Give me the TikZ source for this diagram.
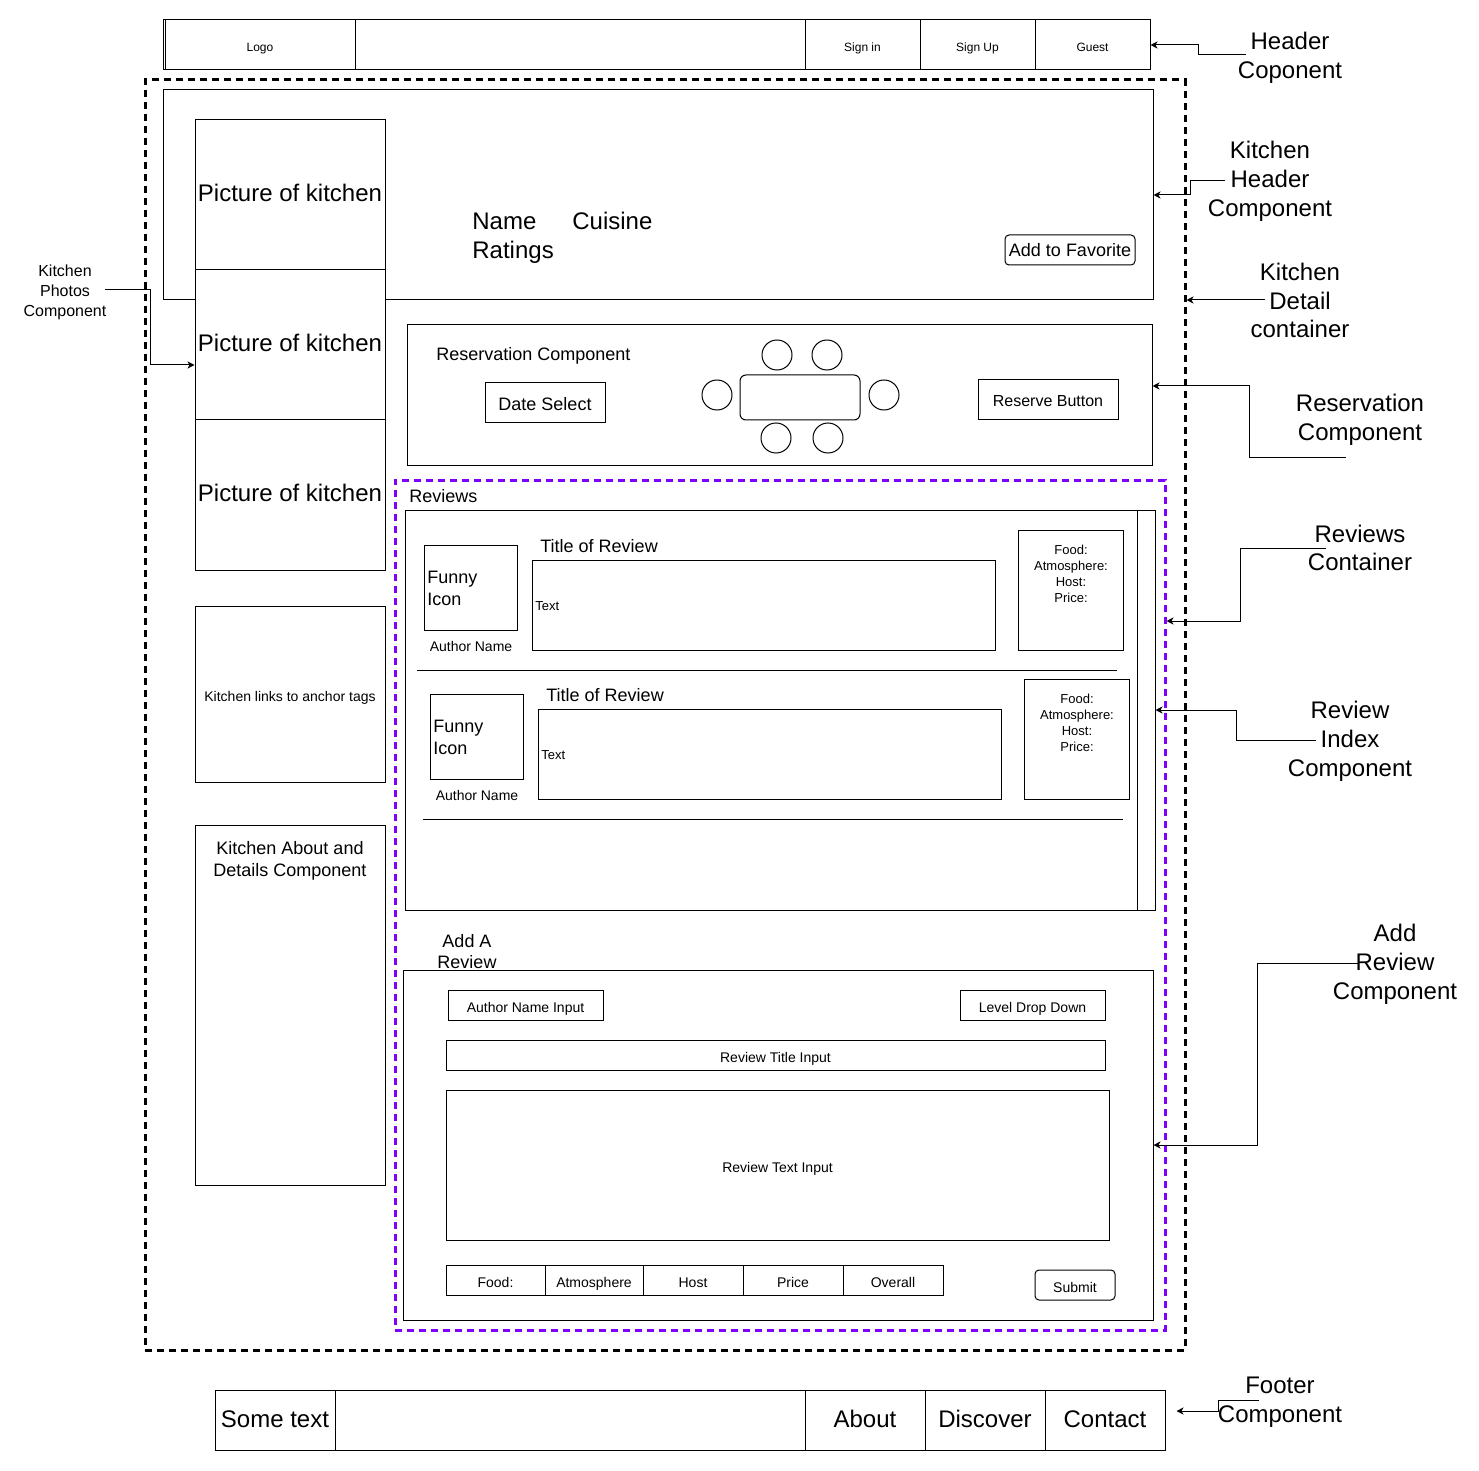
\documentclass[tikz,border=0pt]{standalone}
\usepackage{fontspec}
\setmainfont{Liberation Sans}
\usetikzlibrary{arrows.meta}
\definecolor{revviolet}{HTML}{7F00FF}
\newcommand\sizeL{\fontsize{12}{14.4}\selectfont}
\newcommand\sizeM{\fontsize{9}{10.8}\selectfont}
\newcommand\sizeS{\fontsize{8}{10}\selectfont}
\newcommand\sizeXS{\fontsize{7}{8.4}\selectfont}
\newcommand\sizeR{\fontsize{6.5}{8}\selectfont}
\newcommand\sizeT{\fontsize{6}{7.2}\selectfont}
\tikzset{
  box/.style={draw, line width=0.5pt, fill=white, inner sep=1pt, text height=0.7em, text depth=0pt},
  btn/.style={box, rounded corners=2pt},
  wh/.style 2 args={minimum width=#1*0.5pt, minimum height=#2*0.5pt},
  txt/.style={inner sep=0pt},
  lbl/.style={inner sep=0pt, align=center, font=\sizeL},
  conn/.style={line width=0.5pt, -{Stealth[length=3.5pt, width=3.5pt, inset=1pt]}},
  bigdash/.style={draw, line width=1.5pt, dash pattern=on 3.5pt off 2.5pt, inner sep=0pt},
}

\begin{document}
\begin{tikzpicture}[x=0.5pt, y=-0.5pt]
            \useasboundingbox (0,0) rectangle (1479,1471);

            %%%%% Header
            \node[box, wh={987}{50}] (hdr) at (656.5,45) {};
            \node[box, wh={190}{50}, font=\sizeT] (logo) at (260,45) {Logo};
            \node[box, wh={450}{50}] (hdrmid) at (580,45) {};
            \node[box, wh={115}{50}, font=\sizeT] (signin) at (862.5,45) {Sign in};
            \node[box, wh={115}{50}, font=\sizeT] (signup) at (977.5,45) {Sign Up};
            \node[box, wh={115}{50}, font=\sizeT] (guest) at (1092.5,45) {Guest};

            %%%%% Kitchen detail container
            \node[bigdash, wh={1040}{1270}] (detail) at (665,715) {};

            %%%%% Kitchen header
            \node[box, wh={990}{210}] (khdr) at (658,195) {};
            \node[txt, anchor=west, align=left, font=\sizeL] (kname) at (472,237.5) {Name\hspace{18pt}Cuisine\\Ratings};
            \node[btn, wh={130}{30}, font=\sizeM] (fav) at (1070,250) {Add to Favorite};

            %%%%% Photos, links, about
            \node[box, wh={190}{150}, font=\sizeL] (pic1) at (290,195) {Picture of kitchen};
            \node[box, wh={190}{150}, font=\sizeL] (pic2) at (290,345) {Picture of kitchen};
            \node[box, wh={190}{150}, font=\sizeL] (pic3) at (290,495) {Picture of kitchen};
            \node[box, wh={190}{176}, font=\sizeXS] (links) at (290,694) {Kitchen links to anchor tags};
            \node[box, wh={190}{360}] (about) at (290,1005) {};
            \node[txt, anchor=north, align=center, font=\sizeM] (abouttxt) at (290,841.5) {Kitchen About and\\Details Component};

            %%%%% Reservation
            \node[box, wh={745}{140}] (resv) at (779.5,395) {};
            \node[txt, anchor=west, font=\sizeM] (resvtxt) at (436,356) {Reservation Component};
            \node[box, wh={120}{40}, font=\sizeM] (date) at (545,403) {Date Select};
            \node[box, wh={140}{40}, font=\sizeS] (reserve) at (1048,400) {Reserve Button};
            \node[box, rounded corners=3pt, wh={120}{45}] (table) at (800,397.5) {};
            \foreach \cx/\cy [count=\i] in {777/355, 827/355, 717/395, 884/395, 776/438, 828/438}
                \node[box, circle, minimum size=15pt, inner sep=0pt] (chair\i) at (\cx,\cy) {};

            %%%%% Reviews container
            \node[draw=revviolet, line width=1.5pt, dash pattern=on 3.5pt off 2.5pt, wh={770}{850}] (revs) at (780,905) {};
            \node[txt, anchor=west, font=\sizeM] (revstxt) at (409,496) {Reviews};

            %%%%% Review index
            \node[box, wh={750}{400}] (idx) at (780,710) {};
            \draw[line width=0.5pt] (1137,510) -- (1137,910);
            % review 1
            \node[box, wh={93}{85}] (icon1) at (470.5,587.5) {};
            \node[txt, anchor=west, align=left, font=\sizeM] (icontxt1) at (427,588.5) {Funny\\Icon};
            \node[txt, font=\sizeXS] (author1) at (471,646) {Author Name};
            \node[txt, anchor=west, font=\sizeM] (title1) at (540,546) {Title of Review};
            \node[box, wh={463}{90}] (text1) at (763.5,605) {};
            \node[txt, anchor=west, font=\sizeR] (texttxt1) at (535,606) {Text};
            \node[box, wh={105}{120}] (rate1) at (1070.5,590) {};
            \node[txt, anchor=north, align=center, font=\sizeR] (ratetxt1) at (1071,545) {Food:\\Atmosphere:\\Host:\\Price:};
            \draw[line width=0.5pt] (417,670) -- (1117,670);
            % review 2
            \node[box, wh={93}{85}] (icon2) at (476.5,736.5) {};
            \node[txt, anchor=west, align=left, font=\sizeM] (icontxt2) at (433,737.5) {Funny\\Icon};
            \node[txt, font=\sizeXS] (author2) at (477,795) {Author Name};
            \node[txt, anchor=west, font=\sizeM] (title2) at (546,695) {Title of Review};
            \node[box, wh={463}{90}] (text2) at (769.5,754) {};
            \node[txt, anchor=west, font=\sizeR] (texttxt2) at (541,755) {Text};
            \node[box, wh={105}{120}] (rate2) at (1076.5,739) {};
            \node[txt, anchor=north, align=center, font=\sizeR] (ratetxt2) at (1077,694) {Food:\\Atmosphere:\\Host:\\Price:};
            \draw[line width=0.5pt] (423,819) -- (1123,819);

            %%%%% Add a review
            \node[txt, align=center, font=\sizeM] (addtxt) at (467,951.5) {Add A\\Review};
            \node[box, wh={750}{350}] (addr) at (778,1145) {};
            \node[box, wh={155}{30}, font=\sizeXS] (nameinput) at (525.5,1005) {Author Name Input};
            \node[box, wh={145}{30}, font=\sizeXS] (level) at (1032.5,1005) {Level Drop Down};
            \node[box, wh={659}{30}, font=\sizeXS] (titleinput) at (775.5,1055) {Review Title Input};
            \node[box, wh={663}{150}, font=\sizeXS] (textinput) at (777.5,1165) {Review Text Input};
            \foreach \txt/\cx/\w [count=\i] in {Food:/495.5/99, Atmosphere/594/98, Host/693/100, Price/793/100, Overall/893/100}
                \node[box, wh={\w}{30}, font=\sizeXS] (score\i) at (\cx,1280) {\txt};
            \node[btn, wh={80}{30}, font=\sizeXS] (submit) at (1075,1285) {Submit};

            %%%%% Footer
            \node[box, wh={950}{60}] (ftr) at (690,1420) {};
            \node[box, wh={120}{60}, font=\sizeL] (some) at (275,1420) {Some text};
            \node[box, wh={470}{60}] (ftrmid) at (570,1420) {};
            \node[box, wh={120}{60}, font=\sizeL] (aboutlink) at (865,1420) {About};
            \node[box, wh={120}{60}, font=\sizeL] (discover) at (985,1420) {Discover};
            \node[box, wh={120}{60}, font=\sizeL] (contact) at (1105,1420) {Contact};

            %%%%% Labels
            \node[lbl] (lhdr) at (1290,57.5) {Header\\Coponent};
            \node[lbl] (lkhdr) at (1270,181) {Kitchen\\Header\\Component};
            \node[lbl] (ldet) at (1300,300.5) {Kitchen\\Detail\\container};
            \node[lbl] (lresv) at (1360,419.5) {Reservation\\Component};
            \node[lbl] (lrevs) at (1360,548) {Reviews\\Container};
            \node[lbl] (lidx) at (1350,741.5) {Review\\Index\\Component};
            \node[lbl] (ladd) at (1395,964) {Add\\Review\\Component};
            \node[lbl] (lftr) at (1280,1402.5) {Footer\\Component};
            \node[txt, align=center, font=\sizeS] (lpho) at (65,292) {Kitchen\\Photos\\Component};

            %%%%% Connectors
            \coordinate (hdrtail) at (1246,55);
            \coordinate (khdrtail) at (1225,181);
            \coordinate (dettail) at (1265,300);
            \coordinate (resvtail) at (1346,457);
            \coordinate (revstail) at (1326,548);
            \coordinate (idxtail) at (1316,740);
            \coordinate (addtail) at (1358,963);
            \coordinate (ftrtail) at (1259,1400);
            \coordinate (photail) at (105,290);
            \draw[conn] (hdrtail) -- ++(-48,0) |- (hdr.east);
            \draw[conn] (khdrtail) -- ++(-35,0) |- (khdr.east);
            \draw[conn] (dettail) -- ([yshift=207.5pt]detail.east);
            \draw[conn] (resvtail) -- ++(-97,0) |- ([yshift=4.5pt]resv.east);
            \draw[conn] (revstail) -- ++(-86,0) |- ([yshift=142pt]revs.east);
            \draw[conn] (idxtail) -- ++(-80,0) |- (idx.east);
            \draw[conn] (addtail) -- ++(-101,0) |- (addr.east);
            \draw[conn] (ftrtail) -- ++(-41,0) |- ([xshift=5.5pt, yshift=4.5pt]ftr.east);
            \draw[conn] (photail) -- ++(45,0) |- ([yshift=-10pt]pic2.west);
\end{tikzpicture}
\end{document}
